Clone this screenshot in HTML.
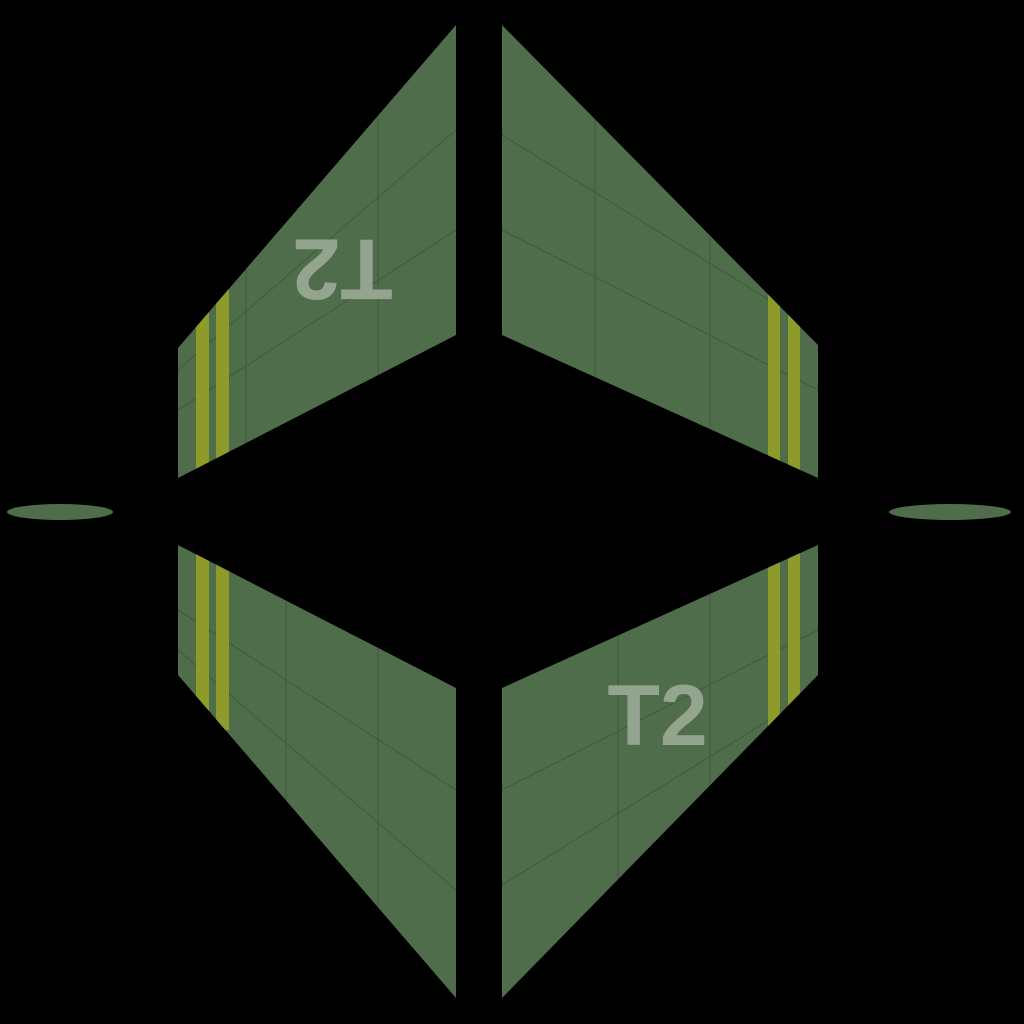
<!DOCTYPE html>
<html><head><meta charset="utf-8"><style>html,body{margin:0;padding:0;background:#000;width:1024px;height:1024px;overflow:hidden}</style></head>
<body>
<svg width="1024" height="1024" viewBox="0 0 1024 1024">
<rect width="1024" height="1024" fill="#000"/>
<defs>
<clipPath id="cTL"><polygon points="456,25 456,335 178,478 178,348"/></clipPath>
<clipPath id="cTR"><polygon points="502,25 818,345 818,478 502,335"/></clipPath>
<clipPath id="cBL"><polygon points="178,545 456,688 456,998 178,675"/></clipPath>
<clipPath id="cBR"><polygon points="502,688 818,545 818,675 502,998"/></clipPath>
</defs>
<g clip-path="url(#cTL)">
<rect x="170" y="20" width="300" height="470" fill="#4f6d4b"/>
<g stroke="#3d5a3a" stroke-width="1" fill="none"><line x1="178" y1="410" x2="456" y2="230"/><line x1="178" y1="370" x2="456" y2="130"/><line x1="378" y1="20" x2="378" y2="490"/><line x1="246" y1="20" x2="246" y2="490"/></g>
<rect x="196" y="290" width="13" height="200" fill="#8e9a2a"/>
<rect x="216" y="290" width="13" height="200" fill="#8e9a2a"/>
</g>
<g clip-path="url(#cTR)">
<rect x="495" y="20" width="330" height="470" fill="#4f6d4b"/>
<g stroke="#3d5a3a" stroke-width="1" fill="none"><line x1="502" y1="135" x2="818" y2="330"/><line x1="502" y1="230" x2="818" y2="390"/><line x1="595" y1="20" x2="595" y2="490"/><line x1="710" y1="20" x2="710" y2="490"/></g>
<rect x="768" y="290" width="12" height="200" fill="#8e9a2a"/>
<rect x="788" y="290" width="12" height="200" fill="#8e9a2a"/>
</g>
<g clip-path="url(#cBL)">
<rect x="170" y="540" width="300" height="470" fill="#4f6d4b"/>
<g stroke="#3d5a3a" stroke-width="1" fill="none"><line x1="178" y1="610" x2="456" y2="790"/><line x1="178" y1="650" x2="456" y2="890"/><line x1="378" y1="540" x2="378" y2="1000"/><line x1="286" y1="540" x2="286" y2="1000"/></g>
<rect x="196" y="540" width="13" height="190" fill="#8e9a2a"/>
<rect x="216" y="540" width="13" height="190" fill="#8e9a2a"/>
</g>
<g clip-path="url(#cBR)">
<rect x="495" y="540" width="330" height="470" fill="#4f6d4b"/>
<g stroke="#3d5a3a" stroke-width="1" fill="none"><line x1="502" y1="885" x2="818" y2="690"/><line x1="502" y1="790" x2="818" y2="630"/><line x1="618" y1="540" x2="618" y2="1000"/><line x1="710" y1="540" x2="710" y2="1000"/></g>
<rect x="768" y="540" width="12" height="190" fill="#8e9a2a"/>
<rect x="788" y="540" width="12" height="190" fill="#8e9a2a"/>
</g>
<ellipse cx="60" cy="512" rx="53" ry="8" fill="#4f6d4b"/>
<ellipse cx="950" cy="512" rx="61" ry="8" fill="#4f6d4b"/>
<text transform="rotate(180 342.5 271)" x="342.5" y="302.5" text-anchor="middle" font-family="Liberation Sans, sans-serif" font-weight="bold" font-size="86" fill="#93a58f">T2</text>
<text x="657.5" y="745" text-anchor="middle" font-family="Liberation Sans, sans-serif" font-weight="bold" font-size="86" fill="#93a58f">T2</text>
</svg>
</body></html>
